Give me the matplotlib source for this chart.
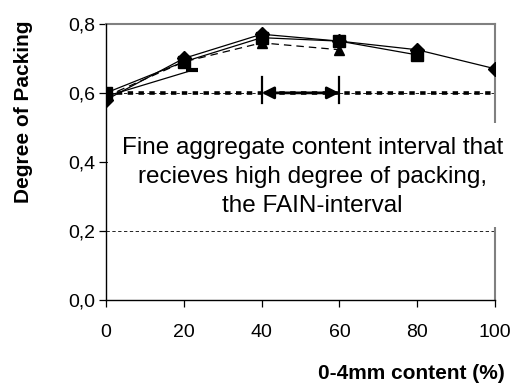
import numpy as np
import matplotlib.pyplot as plt
from matplotlib.patches import Rectangle
from matplotlib.ticker import FuncFormatter

plt.rcParams['font.family'] = ['Liberation Sans', 'DejaVu Sans']

# Degree of packing vs. fine aggregate (0-4mm) content
x_diamond = [0, 20, 40, 60, 80, 100]
y_diamond = [0.58, 0.70, 0.77, 0.75, 0.725, 0.67]

x_square = [0, 20, 40, 60, 80]
y_square = [0.60, 0.69, 0.76, 0.75, 0.71]

x_triangle = [0, 20, 40, 60]
y_triangle = [0.59, 0.69, 0.745, 0.725]

x_dash = [0, 22]
y_dash = [0.59, 0.665]

fain_start, fain_end = 40, 60
fain_level = 0.6

y_ticks = [0.0, 0.2, 0.4, 0.6, 0.8]
x_ticks = [0, 20, 40, 60, 80, 100]

fig = plt.figure(figsize=(5.15, 3.85), dpi=100)
ax = fig.add_axes([0.206, 0.221, 0.755, 0.717])

# gridlines
for yv in y_ticks[1:]:
    ax.axhline(yv, color='black', lw=0.6, ls=(0, (4, 3)), zorder=1)
ax.plot([0, 100], [fain_level, fain_level], color='black', lw=2.6,
        ls=(0, (1.5, 1.5)), zorder=1)

ax.plot(x_triangle, y_triangle, color='black', lw=0.9, ls=(0, (6, 4)),
        marker='^', ms=7, zorder=3)
ax.plot(x_dash, y_dash, color='black', lw=0.9, marker='_', ms=9, mew=3, zorder=3)
ax.plot(x_square, y_square, color='black', lw=0.9, marker='s', ms=8.5, zorder=3)
ax.plot(x_diamond, y_diamond, color='black', lw=0.9, marker='D', ms=7.5, zorder=3)

# FAIN interval arrow
ax.annotate('', xy=(fain_start, fain_level), xytext=(fain_end, fain_level),
            arrowprops=dict(arrowstyle='<|-|>', color='black', lw=2,
                            mutation_scale=18, shrinkA=0, shrinkB=0), zorder=4)
for xv in (fain_start, fain_end):
    ax.plot([xv, xv], [0.571, 0.646], color='black', lw=1.6, zorder=4)

# white text box (covers the 0,4 gridline and part of the right border)
box = Rectangle((0.004, 0.21), 1.05, 0.303, transform=ax.get_yaxis_transform(),
                facecolor='white', edgecolor='none', zorder=4.5, clip_on=False)
ax.add_patch(box)
ax.text(53, 0.357, 'Fine aggregate content interval that\n'
        'recieves high degree of packing,\nthe FAIN-interval',
        ha='center', va='center', multialignment='center', fontsize=17.5,
        linespacing=1.42, zorder=5, clip_on=False)

ax.set_xlim(0, 100)
ax.set_ylim(0, 0.8)
ax.set_xticks(x_ticks)
ax.set_yticks(y_ticks)
ax.yaxis.set_major_formatter(FuncFormatter(lambda v, p: f'{v:.1f}'.replace('.', ',')))
ax.tick_params(labelsize=14, length=5, width=0.9, color='black')
ax.tick_params(axis='y', pad=3)
ax.tick_params(axis='x', pad=12)

for side in ('left', 'bottom'):
    ax.spines[side].set_color('black')
    ax.spines[side].set_linewidth(1.0)
    ax.spines[side].set_zorder(5)
for side in ('top', 'right'):
    ax.spines[side].set_color('#808080')
    ax.spines[side].set_linewidth(1.5)

fig.text(0.045, 0.71, 'Degree of Packing', rotation=90, ha='center', va='center',
         fontsize=15, fontweight='bold')
fig.text(0.98, 0.03, '0-4mm content (%)', ha='right', va='center',
         fontsize=15, fontweight='bold')

fig.savefig('out.png', dpi=100)
